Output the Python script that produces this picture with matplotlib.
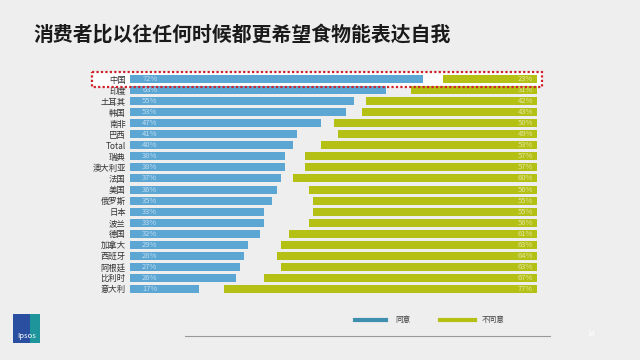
import matplotlib
matplotlib.use('Agg')
import matplotlib.pyplot as plt
from matplotlib.patches import Rectangle
from matplotlib.lines import Line2D

plt.rcParams['font.family'] = ['Noto Sans CJK SC', 'DejaVu Sans']

countries = ['中国', '印度', '土耳其', '韩国', '南非', '巴西', 'Total', '瑞典', '澳大利亚', '法国',
             '美国', '俄罗斯', '日本', '波兰', '德国', '加拿大', '西班牙', '阿根廷', '比利时', '意大利']
agree = [72, 63, 55, 53, 47, 41, 40, 38, 38, 37, 36, 35, 33, 33, 32, 29, 28, 27, 26, 17]
disagree = [23, 31, 42, 43, 50, 49, 53, 57, 57, 60, 56, 55, 55, 56, 61, 63, 64, 63, 67, 77]

blue = '#5ca6d4'
green = '#b4c014'

fig = plt.figure(figsize=(6.4, 3.6), dpi=100)
fig.patch.set_facecolor('#eeeeee')

fig.text(33/640, 1-35/360, '消费者比以往任何时候都更希望食物能表达自我', fontsize=14.3,
         fontweight='bold', color='#1a1a1a', va='center', ha='left')

ax = fig.add_axes([130/640, 1-294.5/360, 407/640, 221/360])
ax.set_facecolor('none')
ypos = list(range(len(countries)))

# highlight box behind first row
ax.add_patch(Rectangle((-9.3, -0.68), 110.5, 1.36, facecolor='white', edgecolor='none',
                       clip_on=False, zorder=0))

ax.barh(ypos, agree, height=0.72, color=blue, zorder=2)
ax.barh(ypos, disagree, left=[100 - d for d in disagree], height=0.72, color=green, zorder=2)

for i, (a, d) in enumerate(zip(agree, disagree)):
    ax.text(3, i, f'{a}%', fontsize=5.5, color='white', alpha=0.6, va='center', ha='left', zorder=3)
    ax.text(99, i, f'{d}%', fontsize=5.5, color='white', alpha=0.6, va='center', ha='right', zorder=3)

ax.add_patch(Rectangle((-9.3, -0.68), 110.5, 1.36, facecolor='none', edgecolor='#d0202a',
                       linestyle=(0, (1, 1)), linewidth=1.6, clip_on=False, zorder=4))

ax.set_xlim(0, 100)
ax.set_ylim(len(countries) - 0.5, -0.5)
ax.set_yticks(ypos)
ax.set_yticklabels(countries, fontsize=6, color='#333333')
ax.tick_params(axis='y', length=0, pad=3)
ax.set_xticks([])
for s in ax.spines.values():
    s.set_visible(False)

# legend
fig.add_artist(Line2D([355/640, 386/640], [1-320/360]*2, color='#3e8fb0', linewidth=3))
fig.text(395/640, 1-320/360, '同意', fontsize=5.5, color='#444444', va='center')
fig.add_artist(Line2D([440/640, 475/640], [1-320/360]*2, color=green, linewidth=3))
fig.text(482/640, 1-320/360, '不同意', fontsize=5.5, color='#444444', va='center')

# bottom rule and page number
fig.add_artist(Line2D([185/640, 550/640], [1-336/360]*2, color='#999999', linewidth=0.8))
fig.text(592/640, 1-334/360, '34', fontsize=5, color='white', va='center', ha='center')

# logo
fig.add_artist(Rectangle((13/640, 1-343/360), 27/640, 29/360, transform=fig.transFigure,
                         facecolor='#2a4fa0', edgecolor='none'))
fig.add_artist(Rectangle((30/640, 1-343/360), 10/640, 29/360, transform=fig.transFigure,
                         facecolor='#1aa89a', edgecolor='none', alpha=0.8))
fig.text(26.5/640, 1-336/360, 'Ipsos', fontsize=5.5, color='white', va='center', ha='center')

fig.savefig('out.png', dpi=100, facecolor=fig.get_facecolor())
